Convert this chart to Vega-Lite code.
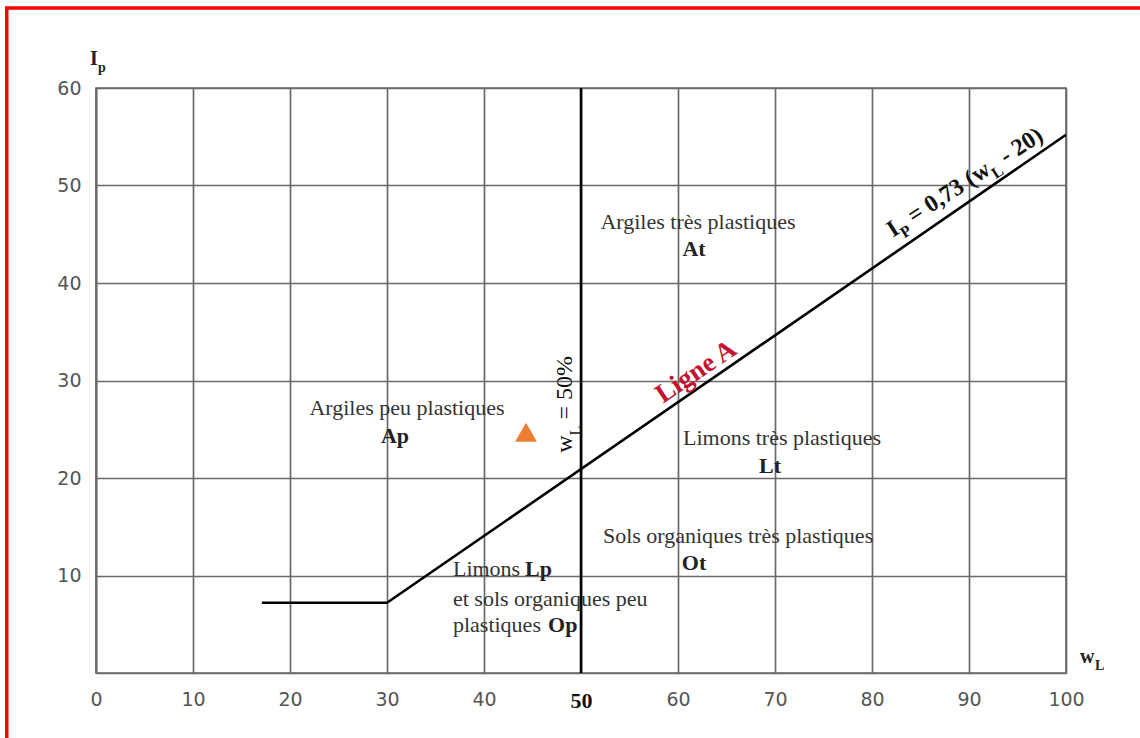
{
  "$schema": "https://vega.github.io/schema/vega-lite/v6.json",
  "width": 970,
  "height": 585,
  "autosize": {"type": "none"},
  "padding": {"left": 96, "top": 88, "right": 74, "bottom": 65},
  "background": "white",
  "config": {
    "view": {"stroke": "#6a6a6a", "strokeWidth": 1.7},
    "text": {"font": "Liberation Serif"}
  },
  "datasets": {
    "frame": [{"x": -9.2, "x2": 120, "y": 68.2, "y2": -10}],
    "ligneA": [
      {"x": 17.1, "y": 7.2},
      {"x": 30, "y": 7.2},
      {"x": 100, "y": 55.2}
    ],
    "limite": [{"x": 50, "y": 0}, {"x": 50, "y": 60}],
    "sol": [{"x": 44.33, "y": 24.7}],
    "zones": [
      {"x": 62.06, "y": 46.3, "text": "Argiles très plastiques"},
      {"x": 32.06, "y": 27.21, "text": "Argiles peu plastiques"},
      {"x": 70.72, "y": 24.13, "text": "Limons très plastiques"},
      {"x": 66.19, "y": 14.1, "text": "Sols organiques très plastiques"}
    ],
    "codes": [
      {"x": 61.65, "y": 43.52, "text": "At"},
      {"x": 30.82, "y": 24.33, "text": "Ap"},
      {"x": 69.48, "y": 21.26, "text": "Lt"},
      {"x": 61.65, "y": 11.32, "text": "Ot"}
    ],
    "limons": [
      {"x": 36.8, "y": 10.7, "text": "Limons"},
      {"x": 36.8, "y": 7.62, "text": "et sols organiques peu"},
      {"x": 36.8, "y": 4.96, "text": "plastiques"}
    ],
    "limonsCodes": [
      {"x": 44.23, "y": 10.7, "text": "Lp"},
      {"x": 46.6, "y": 4.96, "text": "Op"}
    ],
    "ligneLabel": [{"x": 61.86, "y": 30.9, "text": "Ligne A"}],
    "equation": [
      {"x": 82.16, "y": 44.65, "text": "I"},
      {"x": 84.34, "y": 46.05, "text": "= 0,73 (w"},
      {"x": 93.82, "y": 52.17, "text": "- 20)"}
    ],
    "equationSub": [
      {"x": 82.97, "y": 45.17, "text": "P"},
      {"x": 92.37, "y": 51.24, "text": "L"}
    ],
    "limiteLabel": [
      {"x": 49.07, "y": 22.6, "text": "w"},
      {"x": 49.07, "y": 26.0, "text": "= 50%"}
    ],
    "limiteSub": [{"x": 49.07, "y": 24.35, "text": "L"}],
    "axisNames": [
      {"x": -0.62, "y": 62.39, "text": "I"},
      {"x": 101.44, "y": 1.06, "text": "w"}
    ],
    "axisSubs": [
      {"x": 0.21, "y": 62.39, "text": "p"},
      {"x": 103.0, "y": 1.06, "text": "L"}
    ]
  },
  "encoding": {
    "x": {
      "field": "x", "type": "quantitative",
      "scale": {"domain": [0, 100], "nice": false, "zero": false},
      "axis": {
        "values": [0, 10, 20, 30, 40, 50, 60, 70, 80, 90, 100],
        "title": null,
        "grid": true, "gridColor": "#6a6a6a", "gridWidth": 1.7,
        "domainColor": "#6a6a6a", "domainWidth": 1.7,
        "ticks": false, "labelFlush": false, "labelOverlap": false,
        "labelPadding": 17, "labelFontSize": {"condition": {"test": "datum.value === 50", "value": 22}, "value": 19},
        "labelFont": {"condition": {"test": "datum.value === 50", "value": "Liberation Serif"}, "value": "DejaVu Sans"},
        "labelFontWeight": {"condition": {"test": "datum.value === 50", "value": "bold"}, "value": "normal"},
        "labelColor": {"condition": {"test": "datum.value === 50", "value": "#111111"}, "value": "#555555"}
      }
    },
    "y": {
      "field": "y", "type": "quantitative",
      "scale": {"domain": [0, 60], "nice": false, "zero": false},
      "axis": {
        "values": [10, 20, 30, 40, 50, 60],
        "title": null,
        "grid": true, "gridColor": "#6a6a6a", "gridWidth": 1.7,
        "domainColor": "#6a6a6a", "domainWidth": 1.7,
        "ticks": false, "labelFlush": false, "labelOverlap": false,
        "labelPadding": 15, "labelFontSize": 19,
        "labelFont": "DejaVu Sans", "labelColor": "#555555"
      }
    }
  },
  "layer": [
    {
      "data": {"name": "ligneA"},
      "mark": {"type": "line", "color": "#000000", "strokeWidth": 2.6}
    },
    {
      "data": {"name": "limite"},
      "mark": {"type": "line", "color": "#000000", "strokeWidth": 2.6}
    },
    {
      "data": {"name": "sol"},
      "mark": {"type": "point", "shape": "triangle-up", "filled": true, "size": 480, "color": "#ed7d31", "opacity": 1}
    },
    {
      "data": {"name": "zones"},
      "mark": {"type": "text", "fontSize": 22, "color": "#333333", "align": "center", "baseline": "middle"},
      "encoding": {"text": {"field": "text"}}
    },
    {
      "data": {"name": "codes"},
      "mark": {"type": "text", "fontSize": 22, "fontWeight": "bold", "color": "#222222", "align": "center", "baseline": "middle"},
      "encoding": {"text": {"field": "text"}}
    },
    {
      "data": {"name": "limons"},
      "mark": {"type": "text", "fontSize": 22, "color": "#333333", "align": "left", "baseline": "middle"},
      "encoding": {"text": {"field": "text"}}
    },
    {
      "data": {"name": "limonsCodes"},
      "mark": {"type": "text", "fontSize": 22, "fontWeight": "bold", "color": "#222222", "align": "left", "baseline": "middle"},
      "encoding": {"text": {"field": "text"}}
    },
    {
      "data": {"name": "ligneLabel"},
      "mark": {"type": "text", "fontSize": 27, "fontWeight": "bold", "color": "#c4122f", "align": "center", "baseline": "middle", "angle": -34},
      "encoding": {"text": {"field": "text"}}
    },
    {
      "data": {"name": "equation"},
      "mark": {"type": "text", "fontSize": 24, "fontWeight": "bold", "color": "#111111", "align": "left", "baseline": "alphabetic", "angle": -33},
      "encoding": {"text": {"field": "text"}}
    },
    {
      "data": {"name": "equationSub"},
      "mark": {"type": "text", "fontSize": 16, "fontWeight": "bold", "color": "#111111", "align": "left", "baseline": "alphabetic", "angle": -33, "dy": 7},
      "encoding": {"text": {"field": "text"}}
    },
    {
      "data": {"name": "limiteLabel"},
      "mark": {"type": "text", "fontSize": 24, "color": "#111111", "align": "left", "baseline": "alphabetic", "angle": -90},
      "encoding": {"text": {"field": "text"}}
    },
    {
      "data": {"name": "limiteSub"},
      "mark": {"type": "text", "fontSize": 16, "color": "#111111", "align": "left", "baseline": "alphabetic", "angle": -90, "dy": 9},
      "encoding": {"text": {"field": "text"}}
    },
    {
      "data": {"name": "axisNames"},
      "mark": {"type": "text", "fontSize": 20, "fontWeight": "bold", "color": "#222222", "align": "left", "baseline": "alphabetic"},
      "encoding": {"text": {"field": "text"}}
    },
    {
      "data": {"name": "axisSubs"},
      "mark": {"type": "text", "fontSize": 14, "fontWeight": "bold", "color": "#222222", "align": "left", "baseline": "alphabetic", "dy": 7},
      "encoding": {"text": {"field": "text"}}
    },
    {
      "data": {"name": "frame"},
      "mark": {"type": "rect", "fillOpacity": 0, "stroke": "#ff0000", "strokeWidth": 3.5},
      "encoding": {
        "x2": {"field": "x2"},
        "y2": {"field": "y2"}
      }
    }
  ]
}
